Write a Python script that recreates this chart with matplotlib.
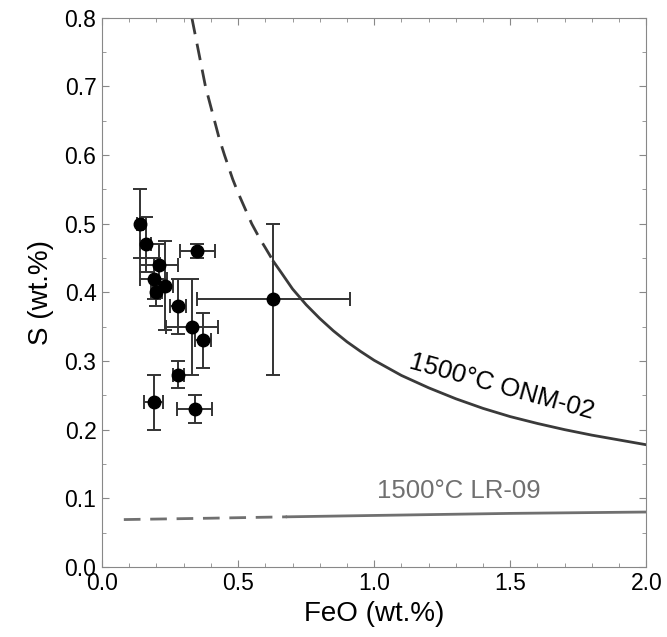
import matplotlib
matplotlib.use("Agg")
import matplotlib.pyplot as plt
from matplotlib.ticker import MultipleLocator

plt.rcParams['font.family'] = ['Liberation Sans', 'DejaVu Sans']

# measured melt inclusions: FeO, S and their errors (wt.%)
feo = [0.14, 0.16, 0.21, 0.35, 0.19, 0.23, 0.20, 0.28, 0.33, 0.37, 0.28, 0.19, 0.34, 0.63]
s = [0.50, 0.47, 0.44, 0.46, 0.42, 0.41, 0.40, 0.38, 0.35, 0.33, 0.28, 0.24, 0.23, 0.39]
feo_err = [0.01, 0.02, 0.07, 0.065, 0.05, 0.03, 0.02, 0.03, 0.095, 0.03, 0.02, 0.035, 0.065, 0.28]
s_err = [0.05, 0.04, 0.03, 0.01, 0.03, 0.065, 0.02, 0.04, 0.07, 0.04, 0.02, 0.04, 0.02, 0.11]

# SCSS curve ONM-02, dashed part (extrapolated) and solid part
onm_x_dash = [0.33, 0.35, 0.38, 0.40, 0.43, 0.45, 0.48, 0.50, 0.53, 0.55, 0.58, 0.60, 0.63]
onm_y_dash = [0.80, 0.76, 0.70, 0.67, 0.625, 0.60, 0.565, 0.545, 0.518, 0.50, 0.478, 0.465, 0.445]
onm_x = [0.63, 0.66, 0.70, 0.75, 0.80, 0.85, 0.90, 0.95, 1.00, 1.10, 1.20, 1.30,
         1.40, 1.50, 1.60, 1.70, 1.80, 1.90, 2.00]
onm_y = [0.445, 0.428, 0.405, 0.382, 0.362, 0.344, 0.328, 0.314, 0.301, 0.279, 0.261, 0.245,
         0.231, 0.219, 0.209, 0.200, 0.192, 0.185, 0.178]

# SCSS curve LR-09
lr_x_dash = [0.08, 0.40, 0.68]
lr_y_dash = [0.069, 0.071, 0.073]
lr_x = [0.68, 1.00, 1.50, 2.00]
lr_y = [0.073, 0.075, 0.078, 0.080]

fig = plt.figure(figsize=(6.67, 6.37), dpi=100)
ax = fig.add_axes([0.153, 0.110, 0.816, 0.862])

ax.plot(onm_x_dash, onm_y_dash, color='#3a3a3a', lw=2.0, dashes=(6, 3.5))
ax.plot(onm_x, onm_y, color='#3a3a3a', lw=2.0)
ax.plot(lr_x_dash, lr_y_dash, color='#707070', lw=2.0, dashes=(6, 3.5))
ax.plot(lr_x, lr_y, color='#707070', lw=2.0)

ax.errorbar(feo, s, xerr=feo_err, yerr=s_err, fmt='o', color='black',
            ms=9, ecolor='#333333', elinewidth=1.4, capsize=5, capthick=1.4)

ax.text(1.47, 0.262, '1500°C ONM-02', rotation=-15.5, fontsize=18.5,
        ha='center', va='center', color='black')
ax.text(1.31, 0.111, '1500°C LR-09', fontsize=18.5, ha='center', va='center',
        color='#707070')

ax.set_xlim(0, 2.0)
ax.set_ylim(0, 0.8)
ax.xaxis.set_major_locator(MultipleLocator(0.5))
ax.xaxis.set_minor_locator(MultipleLocator(0.1))
ax.yaxis.set_major_locator(MultipleLocator(0.1))
ax.yaxis.set_minor_locator(MultipleLocator(0.05))
ax.xaxis.set_major_formatter(plt.FormatStrFormatter('%.1f'))
ax.yaxis.set_major_formatter(plt.FormatStrFormatter('%.1f'))
ax.tick_params(which='both', direction='in', top=True, right=True, color='#888888')
ax.tick_params(which='major', length=5, labelsize=16.5, pad=4)
ax.tick_params(which='minor', length=3)
for sp in ax.spines.values():
    sp.set_color('#888888')

ax.set_xlabel('FeO (wt.%)', fontsize=20, labelpad=4)
ax.set_ylabel('S (wt.%)', fontsize=20, labelpad=8)

fig.savefig('out.png', dpi=100)
